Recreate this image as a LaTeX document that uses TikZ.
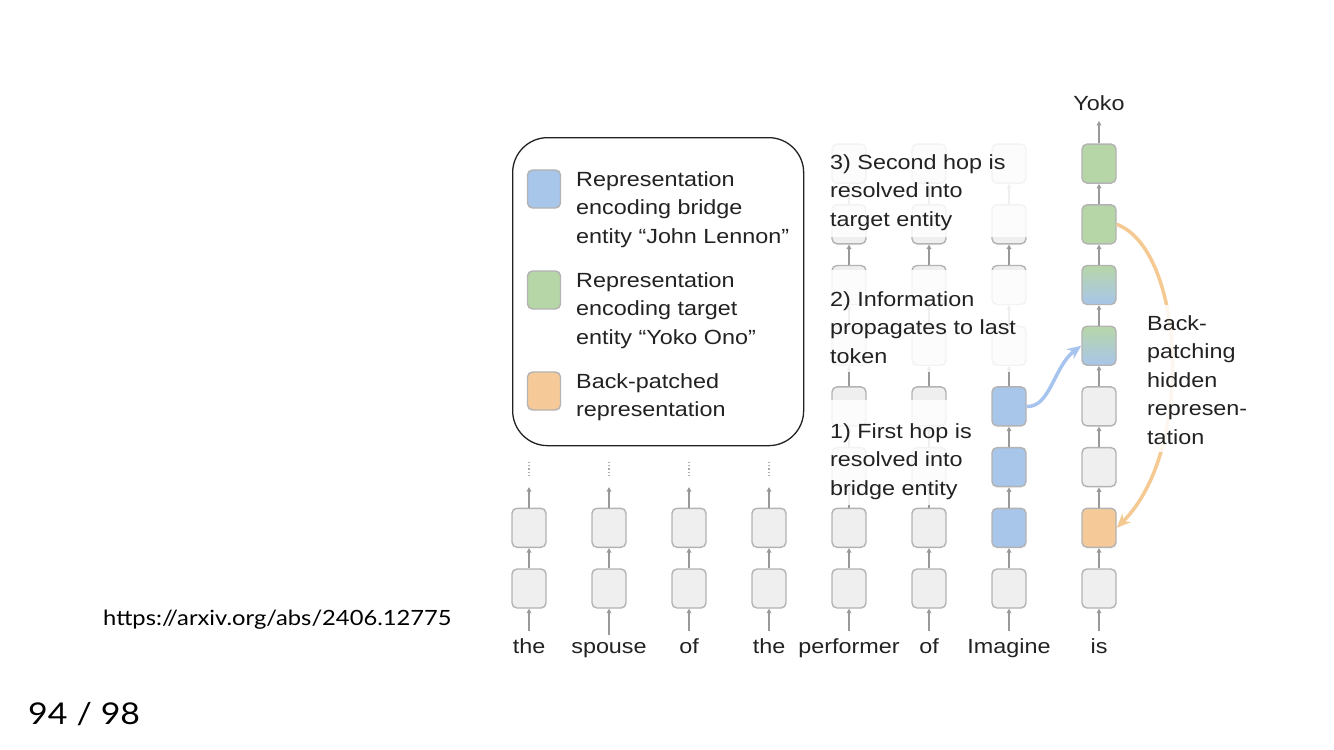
\documentclass[tikz,border=0pt]{standalone}
\usepackage{fontspec}
\setmainfont{Liberation Sans}[FakeStretch=1.14]
\newfontfamily\slidefont{Lato}[FakeStretch=1.13]
\usetikzlibrary{arrows.meta}
\definecolor{boxfill}{HTML}{EFEFEF}
\definecolor{boxline}{HTML}{B3B3B3}
\definecolor{arrowgray}{HTML}{999999}
\definecolor{blueF}{HTML}{A8C5EA}
\definecolor{greenF}{HTML}{B7D6A8}
\definecolor{orangeF}{HTML}{F5CA98}
\definecolor{orangeA}{HTML}{F5C992}
\definecolor{blueA}{HTML}{A6C4EE}
\definecolor{txt}{HTML}{222222}
\begin{document}
\begin{tikzpicture}[x=1pt,y=-1pt,
  box/.style={draw=boxline, fill=boxfill, rounded corners=5pt, minimum width=34pt, minimum height=39pt, line width=1.4pt, inner sep=0pt},
  bluebox/.style={box, fill=blueF},
  greenbox/.style={box, fill=greenF},
  orangebox/.style={box, fill=orangeF},
  gradbox/.style={box, top color=greenF, bottom color=blueF},
  garrow/.style={draw=arrowgray, line width=1.2pt, -{Triangle[length=4.5pt,width=4.5pt]}},
  word/.style={text=txt, font=\fontsize{20.5}{24}\selectfont, anchor=base, inner sep=0pt},
  lbl/.style={text=txt, font=\fontsize{20.5}{28.5}\selectfont, align=left, anchor=north west, inner sep=0pt},
  cover/.style={fill=white, opacity=0.85},
  bigcurve/.style={line width=3.5pt}
]
\useasboundingbox (0,0) rectangle (1334,750);
\fill[white] (0,0) rectangle (1334,750);

% gray columns
\foreach \c/\x/\n in {1/529/2,2/609/2,3/689/2,4/769/2,5/849/8,6/929/8} {
  \foreach \r in {1,...,\n} {
    \node[box] (b\c-\r) at (\x, {588.5-60.7*(\r-1)}) {};
  }
}
% column 7 (Imagine)
\node[box]      (b7-1) at (1009, 588.5) {};
\node[bluebox]  (b7-2) at (1009, 527.8) {};
\node[bluebox]  (b7-3) at (1009, 467.1) {};
\node[bluebox]  (b7-4) at (1009, 406.4) {};
\node[box]      (b7-5) at (1009, 345.7) {};
\node[box]      (b7-6) at (1009, 285.0) {};
\node[box]      (b7-7) at (1009, 224.3) {};
\node[box]      (b7-8) at (1009, 163.6) {};
% column 8 (is)
\node[box]       (b8-1) at (1099, 588.5) {};
\node[orangebox] (b8-2) at (1099, 527.8) {};
\node[box]       (b8-3) at (1099, 467.1) {};
\node[box]       (b8-4) at (1099, 406.4) {};
\node[gradbox]   (b8-5) at (1099, 345.7) {};
\node[gradbox]   (b8-6) at (1099, 285.0) {};
\node[greenbox]  (b8-7) at (1099, 224.3) {};
\node[greenbox]  (b8-8) at (1099, 163.6) {};

% vertical arrows between boxes
\foreach \c/\n in {1/2,2/2,3/2,4/2,5/8,6/8,7/8,8/8} {
  \foreach \r in {2,...,\n} {
    \pgfmathtruncatemacro\p{\r-1}
    \draw[garrow] (b\c-\p.north) -- (b\c-\r.south);
  }
}

% words
\foreach \c/\x/\w in {1/529/the,2/609/spouse,3/689/of,4/769/the,5/849/performer,6/929/of,7/1009/Imagine,8/1099/is} {
  \node[word] (w\c) at (\x, 653.5) {\w};
  \draw[garrow] ([yshift=7pt]w\c.north) -- (b\c-1.south);
}

% top of short columns
\foreach \c/\x in {1/529,2/609,3/689,4/769} {
  \coordinate (t\c) at (\x, 487);
  \coordinate (d\c) at (\x, 476);
  \coordinate (e\c) at (\x, 461);
  \draw[garrow] (b\c-2.north) -- (t\c);
  \draw[arrowgray!80, line width=1.2pt, dotted] (d\c) -- (e\c);
}

% Yoko
\node[word] (yoko) at (1099, 110.5) {Yoko};
\draw[garrow, shorten >=10pt] (b8-8.north) -- (yoko.south);

% curved arrows
\draw[bigcurve, blueA, -{Stealth[length=14pt,width=12pt]}] (b7-4.east) .. controls (1050,408) and (1054,366) .. (b8-5.west);
\draw[bigcurve, orangeA, -{Stealth[length=14pt,width=12pt]}] (b8-7.east) .. controls (1185,250) and (1195,450) .. (b8-2.east);

% covers behind annotation text
\fill[cover] (826,138) rectangle (1032,237);
\fill[cover] (826,270) rectangle (1032,372);
\fill[cover] (826,400) rectangle (982,505);
\fill[cover] (1140,305) rectangle (1255,452);

% annotations
\node[lbl] (hop3) at (830,154) {3) Second hop is\\resolved into\\target entity};
\node[lbl] (hop2) at (830,291) {2) Information\\propagates to last\\token};
\node[lbl] (hop1) at (830,423) {1) First hop is\\resolved into\\bridge entity};
\node[lbl] (bp) at (1147,315) {Back-\\patching\\hidden\\represen-\\tation};

% legend
\node[draw=txt, line width=1.3pt, rounded corners=35pt, minimum width=291pt, minimum height=308pt, anchor=north west, inner sep=0pt] (legend) at (512,137) {};
\node[bluebox, minimum height=38pt, minimum width=33pt] (s1) at (544,189) {};
\node[greenbox, minimum height=38pt, minimum width=33pt] (s2) at (544,290) {};
\node[orangebox, minimum height=38pt, minimum width=33pt] (s3) at (544,391) {};
\node[lbl] (l1) at (576,171) {Representation\\encoding bridge\\entity “John Lennon”};
\node[lbl] (l2) at (576,272) {Representation\\encoding target\\entity “Yoko Ono”};
\node[lbl] (l3) at (576,373) {Back-patched\\representation};

% slide footer
\node[anchor=west, inner sep=0pt, text=black, font=\slidefont\fontsize{21}{24}\selectfont] (url) at (103,620) {https://arxiv.org/abs/2406.12775};
\node[anchor=west, inner sep=0pt, text=black, font=\slidefont\fontsize{30}{34}\selectfont] (page) at (28,714) {94\hspace{0.3em}/\hspace{0.3em}98};
\end{tikzpicture}
\end{document}
